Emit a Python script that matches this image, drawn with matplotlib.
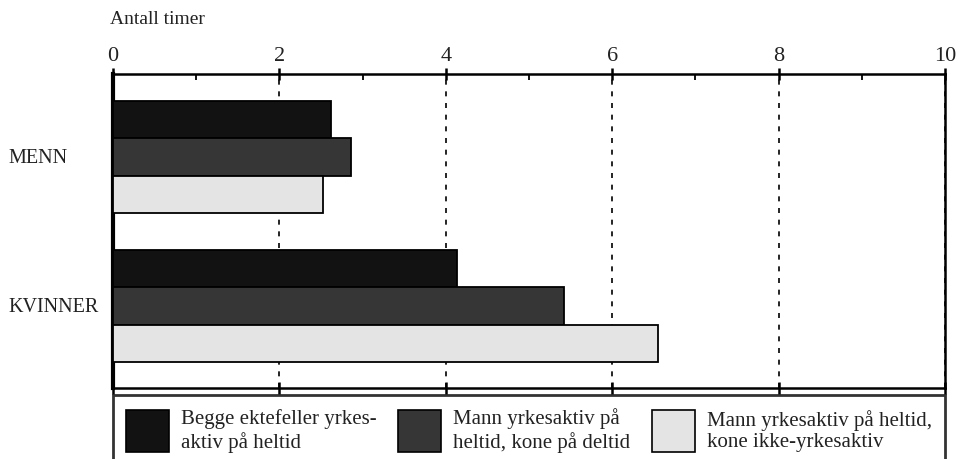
import matplotlib.pyplot as plt
from matplotlib.patches import Patch
import numpy as np

plt.rcParams['font.family'] = ['Liberation Serif', 'DejaVu Serif']

groups = ['MENN', 'KVINNER']
series_labels = ['Begge ektefeller yrkes-\naktiv på heltid',
                 'Mann yrkesaktiv på\nheltid, kone på deltid',
                 'Mann yrkesaktiv på heltid,\nkone ikke-yrkesaktiv']
both_fulltime = [2.62, 4.14]
wife_parttime = [2.86, 5.42]
wife_home = [2.52, 6.55]
colors = ['#121212', '#363636', '#e4e4e4']

fig = plt.figure(figsize=(9.61, 4.60), dpi=100)
ax = fig.add_axes([113 / 961, 1 - 389 / 460, 832 / 961, 314 / 460])

ypos = np.array([1, 0])
h = 0.25
for i, vals in enumerate([both_fulltime, wife_parttime, wife_home]):
    ax.barh(ypos + h - i * h, vals, height=h, color=colors[i],
            edgecolor='black', linewidth=1.3, zorder=3)

ax.set_xlim(0, 10)
ax.set_ylim(-0.55, 1.557)
ax.set_xticks(np.arange(0, 11, 2))
ax.set_xticks(np.arange(1, 10, 2), minor=True)
ax.set_yticks([])
ax.xaxis.tick_top()
ax.tick_params(axis='x', which='major', top=True, bottom=True, labeltop=True,
               labelbottom=False, direction='inout', length=9, width=1.8,
               labelsize=16, pad=2, labelcolor='#222222')
ax.tick_params(axis='x', which='minor', top=True, bottom=False,
               direction='in', length=4, width=1.3)
ax.grid(axis='x', which='major', linestyle=(0, (3, 4)), color='black',
        linewidth=1.2, zorder=0)
for side in ['top', 'bottom', 'right']:
    ax.spines[side].set_linewidth(1.8)
ax.spines['left'].set_linewidth(3)

for y, g in zip(ypos, groups):
    ax.text(-0.126, y, g, transform=ax.get_yaxis_transform(), ha='left',
            va='center', fontsize=14.5, color='#222222')

fig.text(110 / 961, 1 - 19 / 460, 'Antall timer', ha='left', va='center',
         fontsize=14, color='#222222')

handles = [Patch(facecolor=c, edgecolor='black', linewidth=1.2) for c in colors]
leg = fig.legend(handles, series_labels, ncol=3, loc='upper left',
                 bbox_to_anchor=(113 / 961, 1 - 396 / 460 - 0.01, 832 / 961, 0.01),
                 mode='expand', fontsize=15, handlelength=2.07,
                 handleheight=2.7, handletextpad=0.58, borderpad=0.6,
                 columnspacing=0.8, labelspacing=0.2,
                 frameon=True, fancybox=False, edgecolor='black',
                 borderaxespad=0)
leg.get_frame().set_linewidth(2)
for t in leg.get_texts():
    t.set_color('#222222')

fig.savefig('out.png', dpi=100)
